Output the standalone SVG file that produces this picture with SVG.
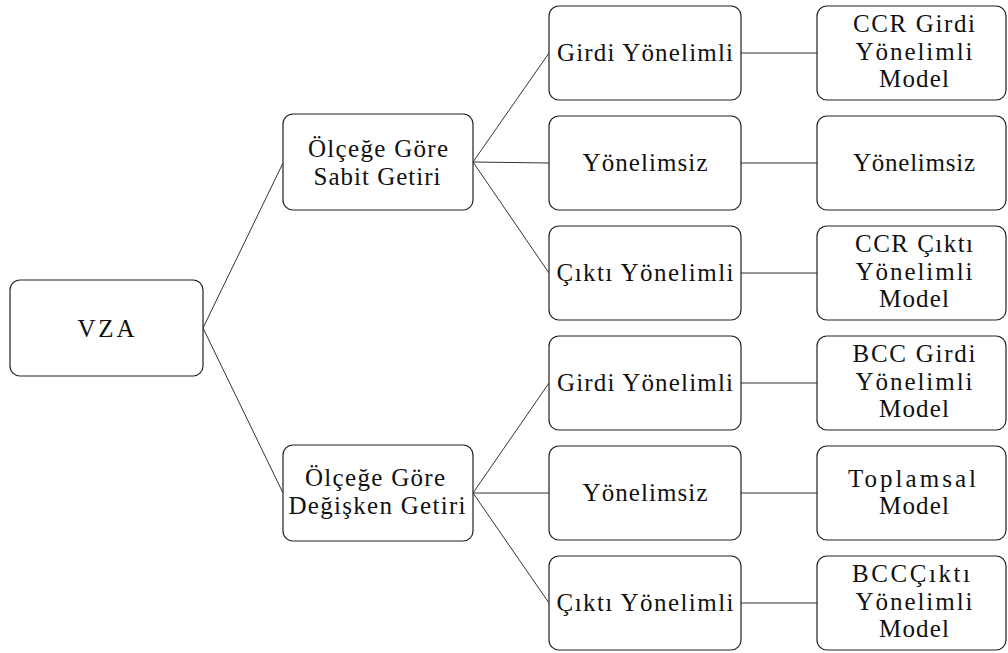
<svg xmlns="http://www.w3.org/2000/svg" width="1008" height="653" viewBox="0 0 1008 653">
<style>
.box{fill:#fff;stroke:#222;stroke-width:1.2}
.t{font-size:25px;fill:#111;text-anchor:middle}
.c{stroke:#333;stroke-width:1;fill:none}
</style>
<rect width="1008" height="653" fill="#fff"/>
<g id="connectors">
<line class="c" x1="203" y1="328" x2="283" y2="163"/>
<line class="c" x1="203" y1="328" x2="283" y2="493"/>
<line class="c" x1="473" y1="162" x2="549" y2="53"/>
<line class="c" x1="473" y1="162" x2="549" y2="163"/>
<line class="c" x1="473" y1="162" x2="549" y2="273"/>
<line class="c" x1="473" y1="493" x2="549" y2="383"/>
<line class="c" x1="473" y1="493" x2="549" y2="493"/>
<line class="c" x1="473" y1="493" x2="549" y2="603"/>
<line class="c" x1="741" y1="53" x2="817" y2="53"/>
<line class="c" x1="741" y1="163" x2="817" y2="163"/>
<line class="c" x1="741" y1="273" x2="817" y2="273"/>
<line class="c" x1="741" y1="383" x2="817" y2="383"/>
<line class="c" x1="741" y1="493" x2="817" y2="493"/>
<line class="c" x1="741" y1="603" x2="817" y2="603"/>
</g>
<g font-family="Liberation Serif, Tinos, Times New Roman, DejaVu Serif, serif">
<g id="vza">
<rect class="box" x="10" y="280" width="193" height="96" rx="10"/>
<text class="t" x="106" y="337" textLength="57" lengthAdjust="spacing">VZA</text>
</g>
<g id="sabit">
<rect class="box" x="283" y="114" width="190" height="96" rx="10"/>
<text class="t" x="378" y="157" textLength="140" lengthAdjust="spacing">Ölçeğe Göre</text>
<text class="t" x="377" y="185" textLength="127" lengthAdjust="spacing">Sabit Getiri</text>
</g>
<g id="degisken">
<rect class="box" x="283" y="445" width="190" height="96" rx="10"/>
<text class="t" x="375" y="486" textLength="140" lengthAdjust="spacing">Ölçeğe Göre</text>
<text class="t" x="377" y="514" textLength="177" lengthAdjust="spacing">Değişken Getiri</text>
</g>
<g id="sabit-girdi">
<rect class="box" x="549" y="6" width="192" height="94" rx="10"/>
<text class="t" x="645" y="61" textLength="176" lengthAdjust="spacing">Girdi Yönelimli</text>
</g>
<g id="sabit-yonelimsiz">
<rect class="box" x="549" y="116" width="192" height="94" rx="10"/>
<text class="t" x="645" y="171" textLength="125" lengthAdjust="spacing">Yönelimsiz</text>
</g>
<g id="sabit-cikti">
<rect class="box" x="549" y="226" width="192" height="94" rx="10"/>
<text class="t" x="645" y="281" textLength="177" lengthAdjust="spacing">Çıktı Yönelimli</text>
</g>
<g id="degisken-girdi">
<rect class="box" x="549" y="336" width="192" height="94" rx="10"/>
<text class="t" x="645" y="391" textLength="176" lengthAdjust="spacing">Girdi Yönelimli</text>
</g>
<g id="degisken-yonelimsiz">
<rect class="box" x="549" y="446" width="192" height="94" rx="10"/>
<text class="t" x="645" y="501" textLength="125" lengthAdjust="spacing">Yönelimsiz</text>
</g>
<g id="degisken-cikti">
<rect class="box" x="549" y="556" width="192" height="94" rx="10"/>
<text class="t" x="645" y="611" textLength="177" lengthAdjust="spacing">Çıktı Yönelimli</text>
</g>
<g id="ccr-girdi">
<rect class="box" x="817" y="6" width="189" height="94" rx="10"/>
<text class="t" x="914" y="32" textLength="122" lengthAdjust="spacing">CCR Girdi</text>
<text class="t" x="914" y="60" textLength="117" lengthAdjust="spacing">Yönelimli</text>
<text class="t" x="914" y="87" textLength="70" lengthAdjust="spacing">Model</text>
</g>
<g id="yonelimsiz-model">
<rect class="box" x="817" y="116" width="189" height="94" rx="10"/>
<text class="t" x="914" y="171" textLength="122" lengthAdjust="spacing">Yönelimsiz</text>
</g>
<g id="ccr-cikti">
<rect class="box" x="817" y="226" width="189" height="94" rx="10"/>
<text class="t" x="914" y="252" textLength="118" lengthAdjust="spacing">CCR Çıktı</text>
<text class="t" x="914" y="280" textLength="117" lengthAdjust="spacing">Yönelimli</text>
<text class="t" x="914" y="307" textLength="70" lengthAdjust="spacing">Model</text>
</g>
<g id="bcc-girdi">
<rect class="box" x="817" y="336" width="189" height="94" rx="10"/>
<text class="t" x="914" y="362" textLength="123" lengthAdjust="spacing">BCC Girdi</text>
<text class="t" x="914" y="390" textLength="117" lengthAdjust="spacing">Yönelimli</text>
<text class="t" x="914" y="417" textLength="70" lengthAdjust="spacing">Model</text>
</g>
<g id="toplamsal">
<rect class="box" x="817" y="446" width="189" height="94" rx="10"/>
<text class="t" x="912" y="487" textLength="128" lengthAdjust="spacing">Toplamsal</text>
<text class="t" x="914" y="514" textLength="70" lengthAdjust="spacing">Model</text>
</g>
<g id="bcc-cikti">
<rect class="box" x="817" y="556" width="189" height="94" rx="10"/>
<text class="t" x="911" y="582" textLength="118" lengthAdjust="spacing">BCCÇıktı</text>
<text class="t" x="914" y="610" textLength="117" lengthAdjust="spacing">Yönelimli</text>
<text class="t" x="914" y="637" textLength="70" lengthAdjust="spacing">Model</text>
</g>
</g>
</svg>
